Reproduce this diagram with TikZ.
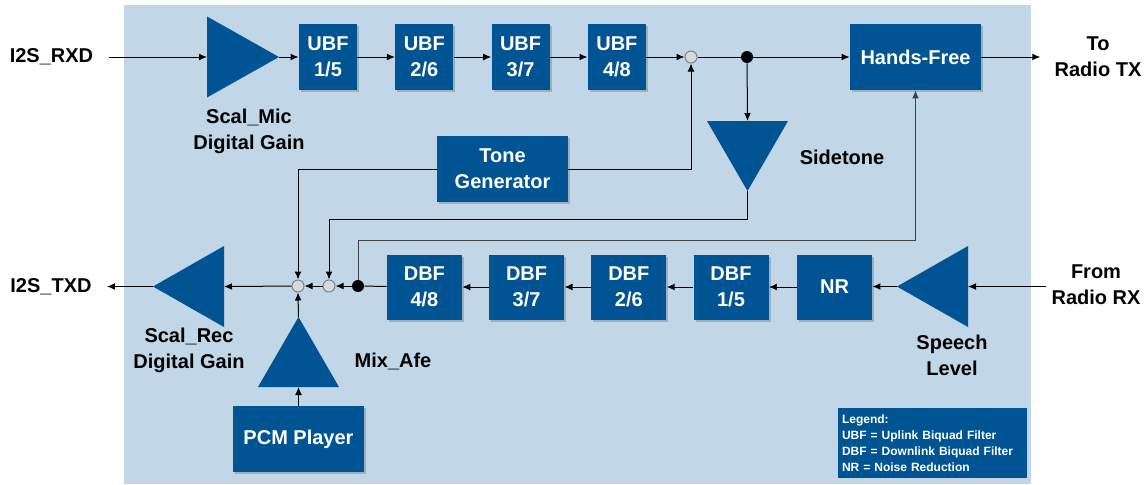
\documentclass[tikz,border=0pt]{standalone}
\usepackage{fontspec}
\setmainfont{Liberation Sans}
\usetikzlibrary{arrows.meta,shapes.geometric,shadows}

\definecolor{boxblue}{RGB}{0,84,147}
\definecolor{panel}{RGB}{193,214,231}
\definecolor{sumgrey}{RGB}{212,217,222}

\tikzset{
  blk/.style={fill=boxblue, text=white, font=\bfseries\fontsize{10}{13}\selectfont,
    align=center, inner sep=0pt,
    drop shadow={shadow xshift=1pt,shadow yshift=-1pt,fill=black,opacity=0.18}},
  ubf/.style={blk, minimum width=29pt, minimum height=33pt},
  dbf/.style={blk, minimum width=37.5pt, minimum height=32.5pt},
  wide/.style={blk, minimum width=65.5pt, minimum height=33pt},
  amp/.style={isosceles triangle, isosceles triangle stretches, fill=boxblue,
    inner sep=0pt, outer sep=0pt, anchor=lower side},
  sum/.style={circle, draw=gray, fill=sumgrey, minimum size=6pt, inner sep=0pt, line width=0.5pt},
  dot/.style={circle, fill=black, minimum size=6pt, inner sep=0pt},
  lbl/.style={font=\bfseries\fontsize{10}{13}\selectfont, align=center, inner sep=0pt},
  legend/.style={fill=boxblue, text=white, font=\bfseries\fontsize{6}{8}\selectfont,
    align=left, text width=90.5pt, inner xsep=2pt, minimum height=35pt},
  arr/.style={-{Latex[length=4pt,width=3.4pt]}, line width=0.5pt},
  wire/.style={line width=0.5pt},
}

\begin{document}
\begin{tikzpicture}[x=0.5pt,y=-0.5pt]
  \useasboundingbox (0,0) rectangle (1144,484);
  \fill[panel] (124,5) rectangle (1031,484);

  % Uplink path
  \node[lbl] (rxd) at (51.5,57) {I2S\_RXD};
  \node[amp, minimum width=40.5pt, minimum height=36pt] (micgain) at (207,57) {};
  \node[lbl] at (249,131) {Scal\_Mic\\Digital Gain};
  \foreach \a/\b [count=\i] in {1/5,2/6,3/7,4/8} {
    \node[ubf] (ubf\i) at ({328+96.3*(\i-1)},57) {UBF\\\a/\b};
  }
  \node[sum] (sumu) at (691,57) {};
  \node[dot] (dotu) at (747,57) {};
  \node[wide] (hf) at (915.5,57) {Hands-Free};
  \node[lbl] (totx) at (1098,57) {To\\Radio TX};

  % Sidetone and tone generator
  \node[amp, shape border rotate=270, minimum width=40.5pt, minimum height=35pt] (side) at (747.5,121) {};
  \node[lbl] at (842,157) {Sidetone};
  \node[wide] (tone) at (502.5,169) {Tone\\Generator};

  % Downlink path
  \node[lbl] (fromrx) at (1096,285) {From\\Radio RX};
  \node[amp, shape border rotate=180, minimum width=40.5pt, minimum height=35.5pt] (speech) at (968,286.5) {};
  \node[lbl] at (952,355) {Speech\\Level};
  \node[dbf] (nr) at (834.5,287) {NR};
  \foreach \a/\b [count=\i] in {1/5,2/6,3/7,4/8} {
    \node[dbf] (dbf\i) at ({731-102.2*(\i-1)},287) {DBF\\\a/\b};
  }
  \node[dot] (dotd) at (358,286) {};
  \node[sum] (sum2) at (329,286) {};
  \node[sum] (sum1) at (298,286) {};
  \node[amp, shape border rotate=180, minimum width=40.5pt, minimum height=35.5pt] (recgain) at (224,286.5) {};
  \node[lbl] at (189,350) {Scal\_Rec\\Digital Gain};
  \node[lbl] (txd) at (51,287) {I2S\_TXD};

  % Mixer and PCM player
  \node[amp, shape border rotate=90, minimum width=40.5pt, minimum height=35pt] (mix) at (298.5,387) {};
  \node[lbl] at (393,361) {Mix\_Afe};
  \node[wide] (pcm) at (298.5,439) {PCM Player};

  % Legend
  \node[legend] (leg) at (932.5,443) {Legend:\\UBF = Uplink Biquad Filter\\DBF = Downlink Biquad Filter\\NR = Noise Reduction};

  % Uplink connections
  \draw[arr, shorten <=7.5pt] (rxd.east) -- (micgain.lower side);
  \draw[arr] (micgain.apex) -- (ubf1.west);
  \foreach \i/\j in {1/2,2/3,3/4} \draw[arr] (ubf\i) -- (ubf\j);
  \draw[arr] (ubf4) -- (sumu);
  \draw[wire] (sumu) -- (dotu);
  \draw[arr] (dotu) -- (hf);
  \draw[arr, shorten >=7pt] (hf.east) -- (totx.west |- hf.east);
  \draw[arr] (dotu) -- (side.lower side);
  \draw[arr] (tone.east) -| (sumu.south);

  % Downlink connections
  \draw[arr, shorten <=2.5pt] (fromrx.west |- speech.lower side) -- (speech.lower side);
  \draw[arr] (speech.apex) -- (nr.east |- speech.apex);
  \draw[arr] (nr) -- (dbf1);
  \foreach \i/\j in {1/2,2/3,3/4} \draw[arr] (dbf\i) -- (dbf\j);
  \draw[wire] (dbf4) -- (dotd);
  \draw[arr] (dotd) -- (sum2);
  \draw[arr] (sum2) -- (sum1);
  \draw[arr] (sum1) -- (recgain.lower side);
  \draw[arr, shorten >=7.5pt] (recgain.apex) -- (txd.east |- recgain.apex);

  % Feedback and mix inputs
  \draw[arr, black!75] (dotd) -- ++(0,-46) -| (hf.south);
  \draw[arr] (side.apex) -- ++(0,28) -| (sum2.north);
  \draw[arr] (tone.west) -| (sum1.north);
  \draw[arr] (mix.apex) -- (sum1.south);
  \draw[arr] (pcm.north) -- (mix.lower side);
\end{tikzpicture}
\end{document}
